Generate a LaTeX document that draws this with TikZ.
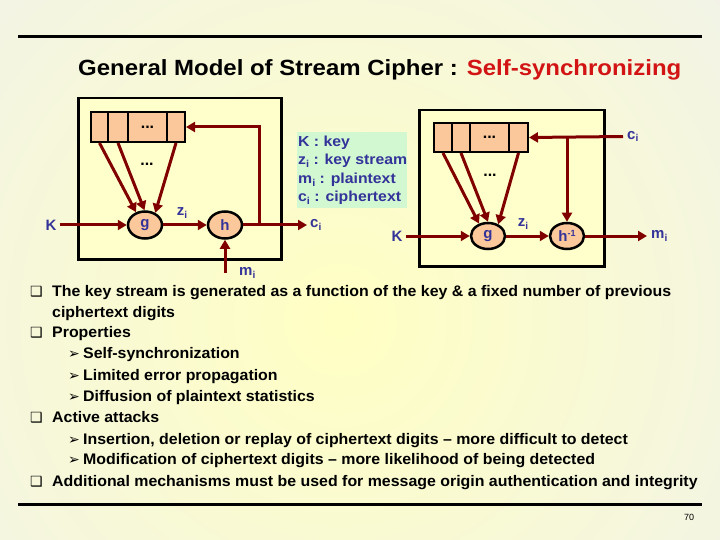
\documentclass[tikz,border=0pt]{standalone}
\usepackage{fontspec}
\setmainfont{Liberation Sans}
\newfontfamily\dingfont{DejaVu Sans}
\usetikzlibrary{arrows.meta,shapes.geometric}
\definecolor{bggray}{RGB}{238,240,240}
\definecolor{bgyellow}{RGB}{255,255,195}
\definecolor{boxyellow}{RGB}{255,255,204}
\definecolor{peach}{RGB}{250,200,155}
\definecolor{darkred}{RGB}{128,0,0}
\definecolor{labblue}{RGB}{51,51,153}
\definecolor{legendgreen}{RGB}{210,248,210}
\definecolor{titlered}{RGB}{210,20,20}
\newcommand\subi{\raisebox{-0.35ex}{\fontsize{10}{10}\selectfont i}}
\newcommand\supm{\raisebox{0.6ex}{\fontsize{9}{9}\selectfont -1}}
\newcommand\wide[2]{\scalebox{#1}[1]{#2}}
\begin{document}
\begin{tikzpicture}[x=1pt,y=-1pt,
  bigbox/.style={draw=black, fill=boxyellow, line width=2.5pt, anchor=north west, inner sep=0pt},
  cell/.style={draw=black, fill=peach, line width=2pt, anchor=north west, inner sep=0pt, font=\bfseries\fontsize{16}{16}\selectfont},
  fn/.style={ellipse, draw=black, fill=peach, line width=2.5pt, minimum width=34pt, minimum height=27pt, inner sep=0pt, text=labblue, font=\bfseries\fontsize{15}{15}\selectfont},
  arr/.style={draw=darkred, line width=3pt, -{Triangle[length=9pt,width=10pt]}},
  lab/.style={text=labblue, font=\bfseries\fontsize{15}{15}\selectfont, inner sep=3pt},
  dots/.style={font=\bfseries\fontsize{16}{16}\selectfont, inner sep=0pt},
  body/.style={anchor=mid west, inner sep=0pt, font=\bfseries\fontsize{15.3}{15.3}\selectfont},
  leg/.style={anchor=mid west, inner sep=0pt, text=labblue, font=\bfseries\fontsize{14.5}{14.5}\selectfont},
  bul/.style={anchor=mid west, inner sep=0pt, font=\dingfont\fontsize{14}{14}\selectfont}
]
\useasboundingbox (0,0) rectangle (720,540);
\fill[bggray] (0,0) rectangle (720,540);
\begin{scope}
\clip (0,0) rectangle (720,540);
\shade[inner color=bgyellow, outer color=bggray] (340,320) circle (640pt);
\end{scope}
\draw[line width=3pt] (18,37) -- (702,37);
\draw[line width=3pt] (18,504) -- (702,504);
\node[anchor=mid west, inner sep=0pt, font=\bfseries\fontsize{22}{22}\selectfont] (title) at (78,73) {\wide{1.09}{General Model of Stream Cipher : \textcolor{titlered}{Self-synchronizing}}};

% ---------- left diagram ----------
\node[bigbox, minimum width=203pt, minimum height=161pt] (lbox) at (77,97) {};
\node[cell, minimum width=17pt, minimum height=30pt] (lc1) at (90,111) {};
\node[cell, minimum width=20pt, minimum height=30pt] (lc2) at (107,111) {};
\node[cell, minimum width=39pt, minimum height=30pt] (lc3) at (127,111) {...};
\node[cell, minimum width=18pt, minimum height=30pt] (lc4) at (166,111) {};
\node[fn] (lg) at (145,225) {g};
\node[fn] (lh) at (225,225) {h};
\node[dots] (ldots) at (147,164) {...};
\node[lab] (lk) at (51,225) {K};
\node[lab] (lz) at (182,213) {z\subi};
\node[lab, anchor=west] (lci) at (307,225) {c\subi};
\node[lab, anchor=west] (lmi) at (236,273) {m\subi};
\coordinate (lfb) at (259,225);
\coordinate (lmb) at (225,273);
\draw[arr] (lk.east) -- (lg.west);
\draw[arr] (lg.east) -- (lh.west);
\draw[arr] (lh.east) -- (lci.west);
\draw[arr] (lfb) |- (lc4.east);
\draw[arr] (lmb) -- (lh.south);
\draw[arr] (lc1.south) -- (lg.125);
\draw[arr] (lc2.south) -- (lg.92);
\draw[arr] (lc4.south) -- (lg.50);

% ---------- legend ----------
\node[fill=legendgreen, anchor=north west, minimum width=110pt, minimum height=76pt, inner sep=0pt] (legend) at (297,132) {};
\node[leg] (lg1) at (298,144) {\wide{1.09}{K : key}};
\node[leg] (lg2) at (298,162) {\wide{1.09}{z\subi{} : key stream}};
\node[leg] (lg3) at (298,181) {\wide{1.09}{m\subi{} : plaintext}};
\node[leg] (lg4) at (298,199) {\wide{1.09}{c\subi{} : ciphertext}};

% ---------- right diagram ----------
\node[bigbox, minimum width=185pt, minimum height=156pt] (rbox) at (418,109) {};
\node[cell, minimum width=18pt, minimum height=29pt] (rc1) at (433,122) {};
\node[cell, minimum width=18pt, minimum height=29pt] (rc2) at (451,122) {};
\node[cell, minimum width=39pt, minimum height=29pt] (rc3) at (469,122) {...};
\node[cell, minimum width=19pt, minimum height=29pt] (rc4) at (508,122) {};
\node[fn, minimum height=26pt] (rg) at (488,236) {g};
\node[fn, minimum height=26pt] (rh) at (567,236) {h\supm};
\node[dots] (rdots) at (490,175) {...};
\node[lab] (rk) at (397,236) {K};
\node[lab] (rz) at (523,224) {z\subi};
\node[lab, anchor=west, inner sep=4pt] (rci) at (623,136.5) {c\subi};
\node[lab, anchor=west, inner sep=4pt] (rmi) at (647,236) {m\subi};
\coordinate (rbr) at (567,136.5);
\draw[arr] (rk.east) -- (rg.west);
\draw[arr] (rg.east) -- (rh.west);
\draw[arr] (rh.east) -- (rmi.west);
\draw[arr] (rci.west) -- (rc4.east);
\draw[arr] (rbr) -- (rh.north);
\draw[arr] (rc1.south) -- (rg.126);
\draw[arr] (rc2.south) -- (rg.90);
\draw[arr] (rc4.south) -- (rg.49);

% ---------- bullets ----------
\node[bul] (b1) at (30,294) {❑};
\node[body] (t1) at (52,294) {\wide{1.04}{The key stream is generated as a function of the key \& a fixed number of previous}};
\node[body] (t1b) at (52,315) {\wide{1.04}{ciphertext digits}};
\node[bul] (b2) at (30,335) {❑};
\node[body] (t2) at (52,335) {\wide{1.04}{Properties}};
\node[bul] (s1) at (68,356) {➢};
\node[body] (u1) at (83,356) {\wide{1.04}{Self-synchronization}};
\node[bul] (s2) at (68,378) {➢};
\node[body] (u2) at (83,378) {\wide{1.04}{Limited error propagation}};
\node[bul] (s3) at (68,399) {➢};
\node[body] (u3) at (83,399) {\wide{1.04}{Diffusion of plaintext statistics}};
\node[bul] (b3) at (30,420) {❑};
\node[body] (t3) at (52,420) {\wide{1.04}{Active attacks}};
\node[bul] (s4) at (68,442) {➢};
\node[body] (u4) at (83,442) {\wide{1.04}{Insertion, deletion or replay of ciphertext digits – more difficult to detect}};
\node[bul] (s5) at (68,462) {➢};
\node[body] (u5) at (83,462) {\wide{1.04}{Modification of ciphertext digits – more likelihood of being detected}};
\node[bul] (b4) at (30,484) {❑};
\node[body] (t4) at (52,484) {\wide{1.04}{Additional mechanisms must be used for message origin authentication and integrity}};
\node[inner sep=0pt, font=\fontsize{9}{9}\selectfont] (pg) at (689,517) {70};
\end{tikzpicture}
\end{document}
